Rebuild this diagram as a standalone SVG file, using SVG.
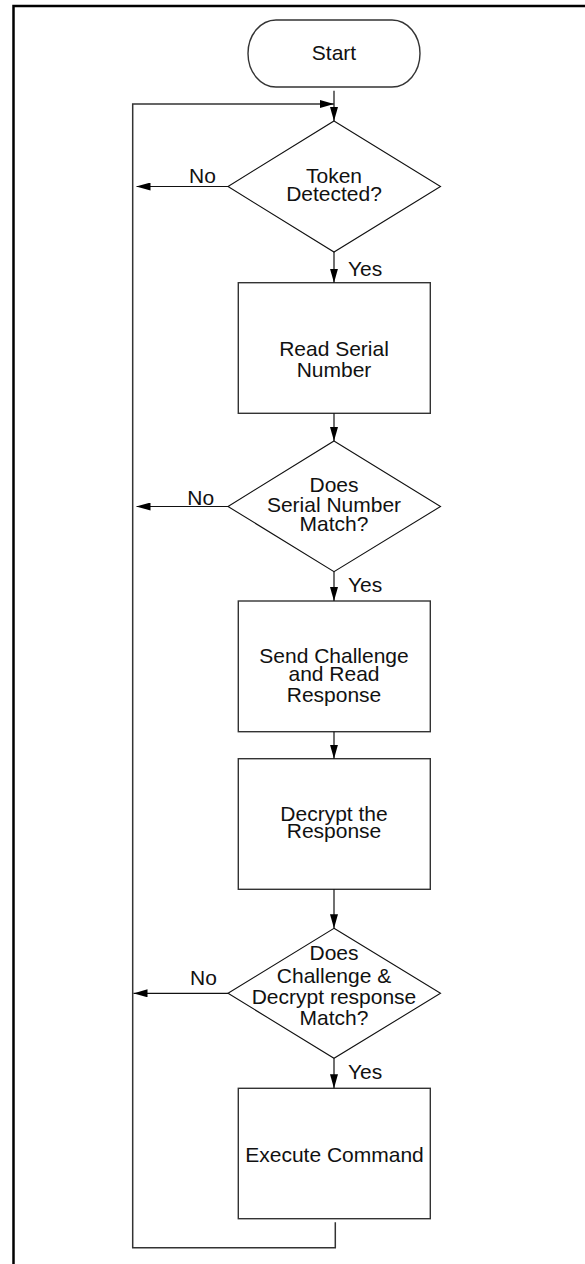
<svg xmlns="http://www.w3.org/2000/svg" width="585" height="1264" viewBox="0 0 585 1264">
<style>
  .t { font-family: "Liberation Sans", Arial, sans-serif; font-size: 21px; fill: #111; }
  .c { text-anchor: middle; }
  .box { fill: #fff; stroke: #333; stroke-width: 1.4; }
  .dia { fill: #fff; stroke: #111; stroke-width: 1.1; }
  .ln { fill: none; stroke: #111; stroke-width: 1.2; }
  .loop { fill: none; stroke: #333; stroke-width: 1.5; }
  .frame { fill: none; stroke: #000; stroke-width: 2.5; }
</style>
<defs>
  <marker id="ah" markerUnits="userSpaceOnUse" markerWidth="14" markerHeight="8" refX="14" refY="4" orient="auto">
    <path d="M0,0 L14,4 L0,8 Z" fill="#000"/>
  </marker>
</defs>
<rect width="585" height="1264" fill="#fff"/>
<path class="frame" d="M13.5,1264 L13.5,6 L585,6"/>

<g id="start">
  <rect x="248" y="20" width="172" height="67" rx="28" ry="33.5" class="box" stroke="#111" stroke-width="1.1"/>
  <text class="t c" x="334" y="60">Start</text>
</g>
<g id="d1">
  <polygon class="dia" points="334,121 440.5,186.5 334,252 228,186.5"/>
  <text class="t c" x="334" y="182.7">Token</text>
  <text class="t c" x="334" y="201">Detected?</text>
</g>
<g id="r1">
  <rect class="box" x="238.3" y="282.7" width="192" height="130.6"/>
  <text class="t c" x="334" y="355.7">Read Serial</text>
  <text class="t c" x="334" y="376.7">Number</text>
</g>
<g id="d2">
  <polygon class="dia" points="334,441 440.5,506.5 334,571.7 228,506.5"/>
  <text class="t c" x="334" y="491.7">Does</text>
  <text class="t c" x="334" y="511.7">Serial Number</text>
  <text class="t c" x="334" y="530.7">Match?</text>
</g>
<g id="r2">
  <rect class="box" x="238.3" y="601" width="192" height="130.7"/>
  <text class="t c" x="334" y="663">Send Challenge</text>
  <text class="t c" x="334" y="681">and Read</text>
  <text class="t c" x="334" y="701.5">Response</text>
</g>
<g id="r3">
  <rect class="box" x="238.3" y="758.7" width="192" height="130.6"/>
  <text class="t c" x="334" y="820.7">Decrypt the</text>
  <text class="t c" x="334" y="838.3">Response</text>
</g>
<g id="d3">
  <polygon class="dia" points="334,928.3 440.5,993.3 334,1058.3 228,993.3"/>
  <text class="t c" x="334" y="960">Does</text>
  <text class="t c" x="334" y="982.7">Challenge &amp;</text>
  <text class="t c" x="334" y="1004.3">Decrypt response</text>
  <text class="t c" x="334" y="1025">Match?</text>
</g>
<g id="r4">
  <rect class="box" x="238.3" y="1088.3" width="192" height="130.4"/>
  <text class="t c" x="334.5" y="1161.7">Execute Command</text>
</g>

<g id="connectors">
  <path class="ln" d="M334,90.7 L334,121" marker-end="url(#ah)"/>
  <path class="loop" d="M335.3,1222.3 L335.3,1247.7 L132.7,1247.7 L132.7,104 L334,104" marker-end="url(#ah)"/>
  <path class="ln" d="M228,186.5 L136.5,186.5" marker-end="url(#ah)"/>
  <path class="ln" d="M334,252 L334,282.7" marker-end="url(#ah)"/>
  <path class="ln" d="M334,413.3 L334,441" marker-end="url(#ah)"/>
  <path class="ln" d="M228,506.5 L136.5,506.5" marker-end="url(#ah)"/>
  <path class="ln" d="M334,571.7 L334,601" marker-end="url(#ah)"/>
  <path class="ln" d="M334,731.7 L334,758.7" marker-end="url(#ah)"/>
  <path class="ln" d="M334,889.3 L334,928.3" marker-end="url(#ah)"/>
  <path class="ln" d="M228,993.3 L133.5,993.3" marker-end="url(#ah)"/>
  <path class="ln" d="M334,1058.3 L334,1088.3" marker-end="url(#ah)"/>
  <g id="labels">
    <text class="t" x="189" y="182.7">No</text>
    <text class="t" x="348" y="275.5">Yes</text>
    <text class="t" x="187.3" y="505">No</text>
    <text class="t" x="348" y="591.7">Yes</text>
    <text class="t" x="190" y="984.5">No</text>
    <text class="t" x="348" y="1079.3">Yes</text>
  </g>
</g>
</svg>
